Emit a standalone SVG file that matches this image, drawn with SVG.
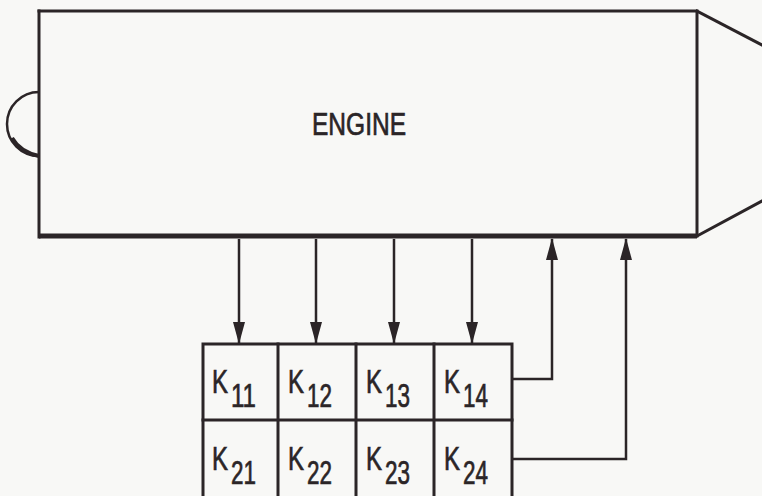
<svg xmlns="http://www.w3.org/2000/svg" width="762" height="496" viewBox="0 0 762 496">
<style>
.ln{fill:none;stroke:#2b2527;stroke-width:3;stroke-linecap:square}
.c{fill:none;stroke:#2b2527;stroke-width:2.5}
.t{font-family:"Liberation Sans",Arial,sans-serif;fill:#2b2527;stroke:#2b2527;stroke-width:0.7}
.k{font-size:33px}
</style>
<defs>
<marker id="ah" viewBox="0 0 22 12" refX="21" refY="6" markerWidth="22" markerHeight="12" markerUnits="userSpaceOnUse" orient="auto-start-reverse">
<path d="M0,0 L22,6 L0,12 Z" fill="#2b2527"/>
</marker>
</defs>
<rect width="762" height="496" fill="#f8f8f6"/>
<g id="engine">
<path class="ln" d="M39,11 L697,11 L697,236"/>
<path class="ln" d="M39,11 L39,237"/>
<path d="M39,236 L697,236" stroke="#2b2527" stroke-width="5" fill="none"/>
<path class="ln" d="M697,11 L764,46"/>
<path class="ln" d="M697,236 L764,200"/>
<path d="M39,92 A32,32 0 0 0 39,156" fill="none" stroke="#2b2527" stroke-width="2.5"/>
<path d="M12,138 Q20,152 39,156" fill="none" stroke="#2b2527" stroke-width="4"/>
<text class="t" x="312" y="135" font-size="31" textLength="94" lengthAdjust="spacingAndGlyphs">ENGINE</text>
</g>
<g id="matrix">
<rect class="ln" x="203" y="344" width="309" height="160"/>
<path class="ln" d="M278,344 V500 M356,344 V500 M434,344 V500 M203,420 H512"/>
</g>
<g id="K11"><text class="t k" x="212" y="393" textLength="16" lengthAdjust="spacingAndGlyphs">K</text><text class="t k" x="231" y="407" textLength="25" lengthAdjust="spacingAndGlyphs">11</text></g>
<g id="K12"><text class="t k" x="288" y="393" textLength="16" lengthAdjust="spacingAndGlyphs">K</text><text class="t k" x="307" y="407" textLength="25" lengthAdjust="spacingAndGlyphs">12</text></g>
<g id="K13"><text class="t k" x="366" y="393" textLength="16" lengthAdjust="spacingAndGlyphs">K</text><text class="t k" x="385" y="407" textLength="25" lengthAdjust="spacingAndGlyphs">13</text></g>
<g id="K14"><text class="t k" x="444" y="393" textLength="16" lengthAdjust="spacingAndGlyphs">K</text><text class="t k" x="463" y="407" textLength="25" lengthAdjust="spacingAndGlyphs">14</text></g>
<g id="K21"><text class="t k" x="212" y="470" textLength="16" lengthAdjust="spacingAndGlyphs">K</text><text class="t k" x="231" y="484" textLength="25" lengthAdjust="spacingAndGlyphs">21</text></g>
<g id="K22"><text class="t k" x="288" y="470" textLength="16" lengthAdjust="spacingAndGlyphs">K</text><text class="t k" x="307" y="484" textLength="25" lengthAdjust="spacingAndGlyphs">22</text></g>
<g id="K23"><text class="t k" x="366" y="470" textLength="16" lengthAdjust="spacingAndGlyphs">K</text><text class="t k" x="385" y="484" textLength="25" lengthAdjust="spacingAndGlyphs">23</text></g>
<g id="K24"><text class="t k" x="444" y="470" textLength="16" lengthAdjust="spacingAndGlyphs">K</text><text class="t k" x="463" y="484" textLength="25" lengthAdjust="spacingAndGlyphs">24</text></g>
<g id="connectors">
<path class="c" d="M239,239 V343" marker-end="url(#ah)"/>
<path class="c" d="M316,239 V343" marker-end="url(#ah)"/>
<path class="c" d="M394,239 V343" marker-end="url(#ah)"/>
<path class="c" d="M472,239 V343" marker-end="url(#ah)"/>
<path class="c" d="M512,379 H552 V239" marker-end="url(#ah)"/>
<path class="c" d="M512,459 H626 V239" marker-end="url(#ah)"/>
</g>
</svg>
